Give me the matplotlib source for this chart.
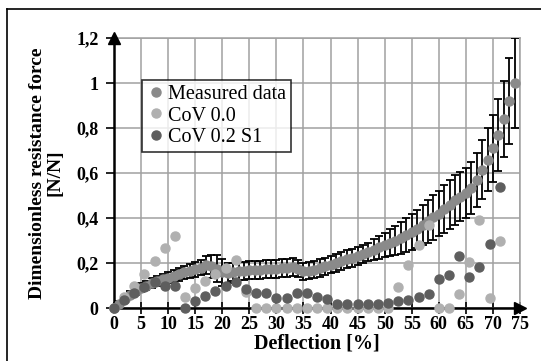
import matplotlib.pyplot as plt
from matplotlib.lines import Line2D

# %% Dane
ugiecie = list(range(0, 75))
pomiar = [0.0, 0.02, 0.04, 0.06, 0.075, 0.09, 0.10, 0.11, 0.12, 0.128,
          0.135, 0.142, 0.15, 0.158, 0.165, 0.172, 0.18, 0.19, 0.185, 0.175,
          0.16, 0.155, 0.16, 0.165, 0.165, 0.168, 0.17, 0.17, 0.172, 0.175,
          0.175, 0.178, 0.18, 0.182, 0.175, 0.163, 0.165, 0.17, 0.178, 0.185,
          0.192, 0.2, 0.208, 0.216, 0.224, 0.232, 0.241, 0.25, 0.26, 0.27,
          0.28, 0.29, 0.30, 0.312, 0.325, 0.338, 0.352, 0.368, 0.385, 0.403,
          0.42, 0.44, 0.46, 0.48, 0.495, 0.512, 0.535, 0.57, 0.615, 0.66,
          0.71, 0.77, 0.84, 0.92, 1.0]
blad = [0.005, 0.01, 0.012, 0.015, 0.018, 0.02, 0.02, 0.022, 0.024, 0.025,
        0.026, 0.028, 0.03, 0.03, 0.032, 0.033, 0.035, 0.04, 0.05, 0.06,
        0.06, 0.045, 0.04, 0.04, 0.04, 0.04, 0.04, 0.04, 0.04, 0.04,
        0.04, 0.04, 0.04, 0.04, 0.038, 0.038, 0.038, 0.038, 0.038, 0.038,
        0.038, 0.04, 0.04, 0.04, 0.04, 0.04, 0.04, 0.04, 0.045, 0.05,
        0.055, 0.06, 0.065, 0.07, 0.075, 0.08, 0.085, 0.09, 0.095, 0.1,
        0.1, 0.105, 0.11, 0.11, 0.11, 0.11, 0.115, 0.12, 0.13, 0.14,
        0.15, 0.16, 0.17, 0.19, 0.2]

ugiecie_sym = [0, 1.875, 3.75, 5.625, 7.5, 9.375, 11.25, 13.125, 15.0, 16.875,
               18.75, 20.625, 22.5, 24.375, 26.25, 28.125, 30.0, 31.875, 33.75,
               35.625, 37.5, 39.375, 41.25, 43.125, 45.0, 46.875, 48.75, 50.625,
               52.5, 54.375, 56.25, 58.125, 60.0, 61.875, 63.75, 65.625, 67.5,
               69.375, 71.25]
cov_00 = [0.0, 0.05, 0.10, 0.15, 0.21, 0.265, 0.32, 0.05, 0.09, 0.12,
          0.15, 0.18, 0.213, 0.07, 0.0, 0.0, 0.0, 0.0, 0.0,
          0.0, 0.0, 0.0, 0.0, 0.0, 0.0, 0.0, 0.0, 0.0,
          0.093, 0.19, 0.28, 0.37, 0.0, 0.0, 0.063, 0.205, 0.39,
          0.045, 0.30]
cov_02_s1 = [0.0, 0.035, 0.067, 0.095, 0.115, 0.10, 0.10, 0.0, 0.03, 0.053,
             0.076, 0.098, 0.116, 0.085, 0.067, 0.067, 0.044, 0.044, 0.065,
             0.065, 0.049, 0.038, 0.02, 0.018, 0.018, 0.018, 0.02, 0.022,
             0.03, 0.035, 0.049, 0.062, 0.127, 0.147, 0.23, 0.138, 0.183,
             0.284, 0.538]

x_ticks = list(range(0, 80, 5))
y_ticks = [0, 0.2, 0.4, 0.6, 0.8, 1.0, 1.2]
y_labels = ["0", "0,2", "0,4", "0,6", "0,8", "1", "1,2"]

# %% Wykres
plt.rcParams["font.family"] = ["Liberation Serif", "DejaVu Serif"]
fig = plt.figure(figsize=(5.41, 3.61), dpi=100)
ax = fig.add_axes([0.2107, 0.1468, 0.7505, 0.7479])

c_pom, c_00, c_02 = "#8a8a8a", "#b0b0b0", "#5e5e5e"
ax.errorbar(ugiecie, pomiar, yerr=blad, fmt="none", ecolor="black",
            elinewidth=1.3, capsize=3, capthick=1.3, zorder=3)
ax.plot(ugiecie, pomiar, "o", color=c_pom, ms=6.5, label="Measured data",
        zorder=4, clip_on=False)
ax.plot(ugiecie_sym, cov_00, "o", color=c_00, ms=6.5, label="CoV 0.0",
        zorder=5, clip_on=False)
ax.plot(ugiecie_sym, cov_02_s1, "o", color=c_02, ms=6.5, label="CoV 0.2 S1",
        zorder=6, clip_on=False)

ax.set_xlim(0, 75)
ax.set_ylim(0, 1.2)
ax.set_xticks(x_ticks)
ax.set_yticks(y_ticks)
ax.set_yticklabels(y_labels)
ax.grid(True, color="#a0a0a0", linewidth=1.1)
ax.set_axisbelow(True)
for lab in ax.get_xticklabels() + ax.get_yticklabels():
    lab.set_fontweight("bold")
    lab.set_fontsize(13)
ax.tick_params(axis="x", direction="inout", length=8, width=1.2, pad=2)
ax.tick_params(axis="y", direction="out", length=6, width=1.2, pad=5)

for s in ("top", "right"):
    ax.spines[s].set_color("#a0a0a0")
    ax.spines[s].set_linewidth(1.1)
for s in ("left", "bottom"):
    ax.spines[s].set_color("black")
    ax.spines[s].set_linewidth(1.8)
    ax.spines[s].set_zorder(2)
# strzałki na osiach
ax.plot(0, 1, "^", color="black", ms=9, transform=ax.transAxes,
        clip_on=False, zorder=7)
ax.plot(1, 0, ">", color="black", ms=9, transform=ax.transAxes,
        clip_on=False, zorder=7)

ax.set_xlabel("Deflection [%]", fontsize=14.5, fontweight="bold", labelpad=0)
ax.set_ylabel("Dimensionless resistance force\n[N/N]", fontsize=14,
              fontweight="bold", linespacing=1.1, labelpad=9)

leg = ax.legend(loc="upper left", bbox_to_anchor=(0.069, 0.845),
                fontsize=14.5, frameon=True, fancybox=False,
                handlelength=0.9, handletextpad=0.15, borderpad=0.25,
                labelspacing=0.12, borderaxespad=0)
leg.get_frame().set_edgecolor("black")
leg.get_frame().set_linewidth(1.2)
leg.set_zorder(10)

# ramka wokół rysunku
fig.add_artist(Line2D([7 / 541, 7 / 541], [0, 1 - 9 / 361], color="black",
                      linewidth=1.2))
fig.add_artist(Line2D([7 / 541, 1], [1 - 9 / 361, 1 - 9 / 361],
                      color="black", linewidth=1.2))

fig.savefig("out.png", dpi=100)
